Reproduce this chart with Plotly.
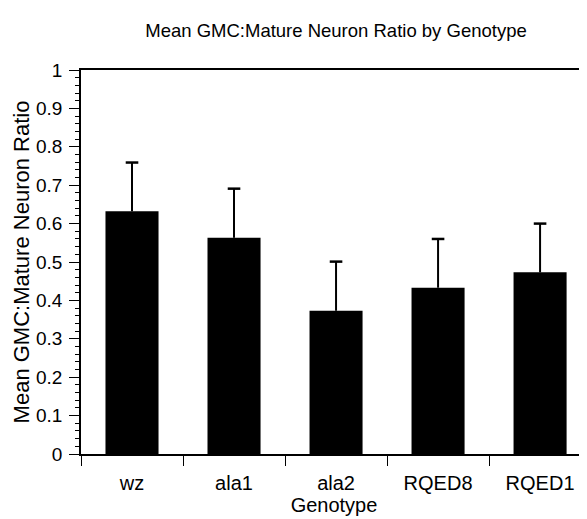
import plotly.graph_objects as go

genotypes = ["wz", "ala1", "ala2", "RQED8", "RQED1"]
mean_ratio = [0.632, 0.563, 0.373, 0.433, 0.473]
error_plus = [0.127, 0.128, 0.128, 0.127, 0.127]
y_ticks = [0, 0.1, 0.2, 0.3, 0.4, 0.5, 0.6, 0.7, 0.8, 0.9, 1]
y_tick_text = ["0", "0.1", "0.2", "0.3", "0.4", "0.5", "0.6", "0.7", "0.8", "0.9", "1"]

FONT = "Liberation Sans, Arial, Helvetica, sans-serif"

upper = [m + e for m, e in zip(mean_ratio, error_plus)]

fig = go.Figure()
fig.add_trace(
    go.Bar(
        x=genotypes,
        y=mean_ratio,
        marker=dict(color="black", line=dict(width=0)),
        hoverinfo="skip",
    )
)
# upper-only error bars: stem from the bar top to mean+err, with a cap only at the top
fig.add_trace(
    go.Scatter(
        x=genotypes,
        y=upper,
        mode="markers",
        marker=dict(symbol="line-ew", size=9, line=dict(width=2.5, color="black")),
        error_y=dict(
            type="data",
            symmetric=False,
            array=[0] * len(error_plus),
            arrayminus=error_plus,
            color="black",
            thickness=2,
            width=0,
        ),
    )
)

# page has an 8px body margin, so the figure is sized to fit inside the window
fig.update_layout(
    width=579,
    height=511,
    paper_bgcolor="white",
    plot_bgcolor="white",
    margin=dict(l=73, r=0, t=62, b=65, autoexpand=False),
    bargap=0.48,
    showlegend=False,
    font=dict(family=FONT, color="black"),
    title=dict(
        text="Mean GMC:Mature Neuron Ratio by Genotype",
        x=0.5665,
        xanchor="center",
        xref="container",
        y=0.955,
        yanchor="middle",
        yref="container",
        font=dict(size=18.5, family=FONT, color="black"),
    ),
)

fig.update_xaxes(
    type="category",
    range=[-0.5, 4.46],
    automargin=False,
    showline=True,
    linecolor="black",
    linewidth=1.5,
    mirror=True,
    ticks="outside",
    tickson="boundaries",
    ticklen=10,
    tickcolor="black",
    tickwidth=1,
    ticklabelstandoff=10,
    tickfont=dict(size=20, family=FONT, color="black"),
    showgrid=False,
    title=dict(text="Genotype", font=dict(size=20, family=FONT, color="black"), standoff=0),
)

fig.update_yaxes(
    range=[0, 1],
    automargin=False,
    tickmode="array",
    tickvals=y_ticks,
    ticktext=y_tick_text,
    showline=True,
    linecolor="black",
    linewidth=1.5,
    mirror=False,
    ticks="outside",
    ticklen=10,
    tickcolor="black",
    tickwidth=1,
    ticklabelstandoff=3,
    tickfont=dict(size=19, family=FONT, color="black"),
    showgrid=False,
    zeroline=False,
    minor=dict(dtick=0.02, ticks="outside", ticklen=4, tickcolor="black", tickwidth=1, showgrid=False),
    title=dict(text="Mean GMC:Mature Neuron Ratio", font=dict(size=22, family=FONT, color="black"), standoff=0),
)

fig.write_html("out.html")
